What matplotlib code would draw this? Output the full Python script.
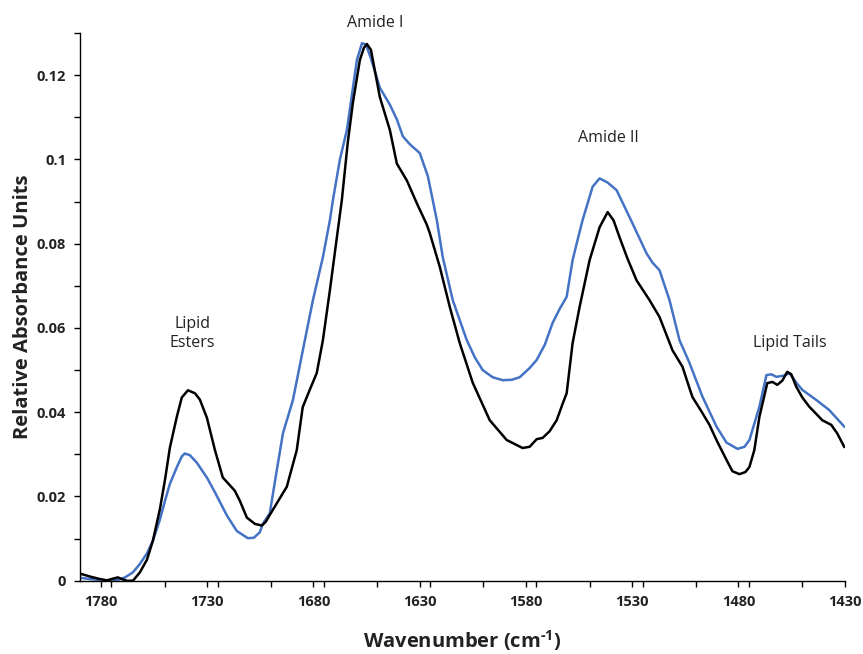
import matplotlib
matplotlib.use("Agg")
import matplotlib.pyplot as plt
from matplotlib.ticker import MultipleLocator, FixedLocator

# Black spectrum
black_wn = [1789.8, 1785.1, 1780.4, 1777.1, 1774.3, 1772.0, 1769.6, 1767.7, 1764.9, 1761.6,
            1758.3, 1755.5, 1752.2, 1749.8, 1747.5, 1744.2, 1741.9, 1739.0, 1735.7, 1733.4,
            1730.1, 1726.3, 1722.6, 1717.0, 1714.6, 1711.3, 1707.5, 1704.2, 1702.4, 1699.1,
            1692.5, 1687.8, 1685.0, 1681.7, 1678.4, 1675.5, 1672.2, 1668.9, 1666.6, 1663.8,
            1661.4, 1658.1, 1656.2, 1654.8, 1652.9, 1648.7, 1644.0, 1640.7, 1636.0, 1631.3,
            1626.6, 1625.2, 1620.5, 1615.8, 1611.1, 1605.0, 1597.0, 1589.0, 1581.5, 1578.2,
            1574.9, 1572.1, 1568.8, 1565.5, 1562.7, 1560.8, 1558.0, 1554.7, 1550.0, 1545.3,
            1541.5, 1538.7, 1535.9, 1532.2, 1527.9, 1521.8, 1517.1, 1511.0, 1506.3, 1503.0,
            1501.6, 1496.9, 1493.6, 1490.3, 1485.6, 1482.8, 1479.5, 1476.7, 1474.8, 1472.5,
            1470.1, 1466.4, 1464.0, 1461.7, 1459.3, 1457.0, 1455.1, 1452.7, 1449.9, 1446.6,
            1440.5, 1436.3, 1433.5, 1430.2]
black_abs = [0.0017, 0.0010, 0.0004, 0.0001, 0.0005, 0.0008, 0.0003, 0.0000, 0.0000, 0.0020,
             0.0050, 0.0095, 0.0170, 0.0240, 0.0316, 0.0390, 0.0435, 0.0452, 0.0445, 0.0430,
             0.0387, 0.0310, 0.0245, 0.0214, 0.0190, 0.0150, 0.0135, 0.0131, 0.0140, 0.0168,
             0.0223, 0.0310, 0.0412, 0.0453, 0.0493, 0.0571, 0.0690, 0.0816, 0.0903, 0.1040,
             0.1134, 0.1236, 0.1265, 0.1274, 0.1260, 0.1148, 0.1070, 0.0990, 0.0950, 0.0896,
             0.0845, 0.0825, 0.0745, 0.0650, 0.0564, 0.0470, 0.0381, 0.0334, 0.0315, 0.0318,
             0.0336, 0.0339, 0.0355, 0.0381, 0.0420, 0.0445, 0.0564, 0.0650, 0.0761, 0.0839,
             0.0875, 0.0855, 0.0815, 0.0765, 0.0713, 0.0666, 0.0626, 0.0547, 0.0508, 0.0457,
             0.0436, 0.0398, 0.0370, 0.0334, 0.0287, 0.0260, 0.0253, 0.0258, 0.0270, 0.0310,
             0.0389, 0.0469, 0.0472, 0.0465, 0.0475, 0.0496, 0.0490, 0.0460, 0.0435, 0.0413,
             0.0381, 0.0370, 0.0350, 0.0318]

# Blue spectrum
blue_wn = [1789.8, 1785.1, 1780.4, 1775.7, 1772.0, 1768.6, 1764.9, 1761.6, 1758.3, 1755.5,
           1752.2, 1749.8, 1747.5, 1744.2, 1741.9, 1740.5, 1738.1, 1734.8, 1730.1, 1726.3,
           1720.7, 1716.0, 1710.8, 1708.0, 1705.2, 1703.8, 1700.5, 1697.6, 1694.3, 1689.6,
           1684.9, 1680.2, 1675.5, 1672.2, 1670.8, 1667.5, 1664.2, 1659.5, 1657.1, 1655.2,
           1652.9, 1648.7, 1644.0, 1640.7, 1637.9, 1634.6, 1629.9, 1626.1, 1621.9, 1619.1,
           1614.4, 1607.8, 1604.0, 1600.3, 1595.6, 1590.9, 1586.6, 1582.9, 1578.2, 1574.9,
           1571.1, 1567.4, 1564.1, 1560.8, 1558.0, 1556.1, 1553.3, 1548.6, 1545.3, 1541.5,
           1537.3, 1531.2, 1523.2, 1520.4, 1517.1, 1512.4, 1507.7, 1503.0, 1496.9, 1490.3,
           1485.6, 1480.4, 1477.1, 1474.8, 1470.1, 1466.8, 1464.5, 1462.1, 1458.4, 1456.0,
           1452.7, 1449.9, 1443.3, 1437.2, 1430.2]
blue_abs = [0.0007, 0.0004, 0.0002, 0.0000, 0.0002, 0.0008, 0.0020, 0.0040, 0.0065, 0.0095,
            0.0145, 0.0190, 0.0230, 0.0270, 0.0295, 0.0302, 0.0298, 0.0280, 0.0245, 0.0210,
            0.0155, 0.0118, 0.0101, 0.0102, 0.0115, 0.0135, 0.0160, 0.0250, 0.0350, 0.0429,
            0.0548, 0.0666, 0.0768, 0.0856, 0.0903, 0.1000, 0.1070, 0.1236, 0.1276, 0.1272,
            0.1240, 0.1170, 0.1130, 0.1095, 0.1055, 0.1036, 0.1015, 0.0960, 0.0856, 0.0768,
            0.0666, 0.0571, 0.0530, 0.0500, 0.0483, 0.0476, 0.0477, 0.0483, 0.0505, 0.0524,
            0.0560, 0.0612, 0.0645, 0.0674, 0.0761, 0.0800, 0.0856, 0.0935, 0.0955, 0.0945,
            0.0927, 0.0863, 0.0777, 0.0755, 0.0737, 0.0666, 0.0571, 0.0517, 0.0437, 0.0366,
            0.0328, 0.0313, 0.0318, 0.0334, 0.0413, 0.0488, 0.0490, 0.0484, 0.0487, 0.0493,
            0.0470, 0.0453, 0.0429, 0.0405, 0.0366]

x_ticks = [1780, 1730, 1680, 1630, 1580, 1530, 1480, 1430]
y_ticks = [0, 0.02, 0.04, 0.06, 0.08, 0.1, 0.12]
y_tick_labels = ["0", "0.02", "0.04", "0.06", "0.08", "0.1", "0.12"]
annotations = [("Amide I", 1651, 0.1305), ("Amide II", 1541, 0.1032),
               ("Lipid\nEsters", 1737, 0.0545), ("Lipid Tails", 1456, 0.0545)]

plt.rcParams['font.family'] = ['Open Sans', 'DejaVu Sans']
plt.rcParams['mathtext.fontset'] = 'custom'
plt.rcParams['mathtext.rm'] = 'Open Sans:bold'
plt.rcParams['mathtext.bf'] = 'Open Sans:bold'

fig = plt.figure(figsize=(8.63, 6.54), dpi=100)
ax = fig.add_axes([0.0927, 0.112, 0.886, 0.8375])

ax.plot(blue_wn, blue_abs, color='#4472C4', lw=1.8, solid_joinstyle='round')
ax.plot(black_wn, black_abs, color='black', lw=1.8, solid_joinstyle='round')

ax.set_xlim(1789.8, 1430)
ax.set_ylim(0, 0.13)
ax.xaxis.set_major_locator(FixedLocator(x_ticks))
ax.xaxis.set_minor_locator(MultipleLocator(25))
ax.set_yticks(y_ticks)
ax.set_yticklabels(y_tick_labels)
ax.yaxis.set_minor_locator(MultipleLocator(0.01))
ax.set_xticks(x_ticks)
ax.set_xticklabels([str(v) for v in x_ticks])

for s in ['top', 'right']:
    ax.spines[s].set_visible(False)
for s in ['left', 'bottom']:
    ax.spines[s].set_linewidth(1.0)
    ax.spines[s].set_color('black')

ax.tick_params(which='both', direction='out', length=4, width=1.0, colors='black')
ax.tick_params(axis='both', which='major', labelsize=10.5, pad=6)
for lbl in ax.get_xticklabels() + ax.get_yticklabels():
    lbl.set_fontweight('bold')
    lbl.set_color('#222222')

ax.set_xlabel(r'Wavenumber (cm$^{\text{-1}}$)', fontsize=14.5, fontweight='bold', labelpad=14, color='#222222')
ax.set_ylabel('Relative Absorbance Units', fontsize=14.5, fontweight='bold', labelpad=3, color='#222222')

for txt, xv, yv in annotations:
    ax.text(xv, yv, txt, ha='center', va='bottom', fontsize=11.5, color='#222222',
            linespacing=1.3, clip_on=False)

fig.savefig('out.png', dpi=100)
